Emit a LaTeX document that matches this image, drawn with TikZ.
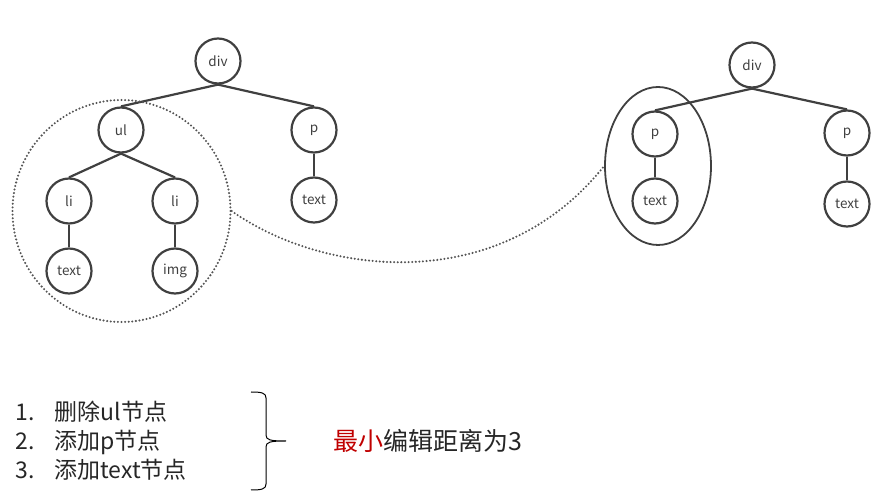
\documentclass[tikz,border=0pt]{standalone}
\usepackage{fontspec}
\setmainfont{Noto Sans CJK SC}
\usetikzlibrary{shapes.geometric}

\definecolor{ink}{HTML}{404040}
\definecolor{dotgray}{HTML}{555555}
\definecolor{hired}{HTML}{C00000}

\begin{document}
\begin{tikzpicture}[x=1pt, y=-1pt,
  tnode/.style={circle, draw=ink, line width=2.2pt, minimum size=45pt,
    inner sep=0pt, text=ink, font=\fontsize{13.5}{15}\selectfont},
  edge/.style={draw=ink, line width=2.2pt},
  dotline/.style={draw=dotgray, line width=2.3pt, dash pattern=on 0pt off 3.6pt, line cap=round},
  stepline/.style={anchor=base west, text=black!85, font=\fontsize{23}{26}\selectfont}]

  \useasboundingbox (0,0) rectangle (879,502);

  % Old tree
  \node[tnode] (div1) at (218,61) {div};
  \node[tnode] (ul) at (121,130) {ul};
  \node[tnode] (p1) at (314,130) {p};
  \node[tnode] (li1) at (69,201) {li};
  \node[tnode] (li2) at (175,201) {li};
  \node[tnode] (txt1) at (69,271) {text};
  \node[tnode] (img) at (175,271) {img};
  \node[tnode] (txt2) at (314,200) {text};

  \draw[edge] (div1.south) -- (ul.north);
  \draw[edge] (div1.south) -- (p1.north);
  \draw[edge] (ul.south) -- (li1.north);
  \draw[edge] (ul.south) -- (li2.north);
  \draw[edge] (li1.south) -- (txt1.north);
  \draw[edge] (li2.south) -- (img.north);
  \draw[edge] (p1.south) -- (txt2.north);

  % New tree
  \node[tnode] (div2) at (752,65) {div};
  \node[tnode] (p2) at (655,134) {p};
  \node[tnode] (p3) at (847,133) {p};
  \node[tnode] (txt3) at (655,201) {text};
  \node[tnode] (txt4) at (847,204) {text};

  \draw[edge] (div2.south) -- (p2.north);
  \draw[edge] (div2.south) -- (p3.north);
  \draw[edge] (p2.south) -- (txt3.north);
  \draw[edge] (p3.south) -- (txt4.north);

  % Changed parts
  \node[ellipse, dotline, minimum width=218pt, minimum height=222pt, inner sep=0pt]
    (oldgrp) at (121.5,211) {};
  \node[ellipse, draw=ink, line width=1.8pt, minimum width=106pt, minimum height=158pt, inner sep=0pt]
    (newgrp) at (658,166) {};
  \draw[dotline] (oldgrp.east) .. controls +(90,64) and +(-105,132) .. (newgrp.west);

  % Edit steps
  \node[stepline] (step1) at (12,421) {\makebox[39pt][l]{1.}删除ul节点};
  \node[stepline] (step2) at (12,450) {\makebox[39pt][l]{2.}添加p节点};
  \node[stepline] (step3) at (12,479) {\makebox[39pt][l]{3.}添加text节点};

  % Brace
  \coordinate (tip) at (286,441);
  \draw[black, line width=1pt]
    (251,392) .. controls (262,392) and (266,393) .. (266,398) -- (266,435)
    .. controls (266,440) and (270,441) .. (tip)
    .. controls (270,441) and (266,442) .. (266,447) -- (266,484)
    .. controls (266,489) and (262,490) .. (251,490);

  \node[stepline, font=\fontsize{25}{28}\selectfont] (result) at (330,450.5)
    {\textcolor{hired}{最小}编辑距离为3};

\end{tikzpicture}
\end{document}
